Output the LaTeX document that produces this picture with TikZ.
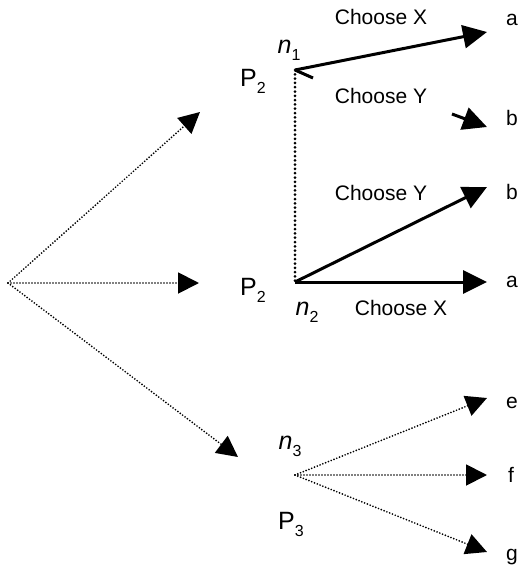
\documentclass[tikz,border=0pt]{standalone}
\usepackage{fontspec}
\setmainfont{Liberation Sans}
\usetikzlibrary{arrows.meta}
% letter with a lowered, smaller upright index
\newcommand{\idx}[2]{#1\raisebox{-0.28em}{\upshape\fontsize{16}{16}\selectfont #2}}

\begin{document}
\begin{tikzpicture}[x=1pt,y=-1pt,
  solidedge/.style={line width=3pt, -{Triangle[length=24pt,width=23pt]}},
  dotedge/.style={line width=1.9pt, line cap=round, dash pattern=on 0pt off 3pt,
                  -{Triangle[length=21pt,width=21pt]}},
  infoset/.style={line width=3pt, line cap=round, dash pattern=on 0pt off 4.3pt},
  choicelabel/.style={font=\fontsize{21}{21}\selectfont, inner sep=0pt},
  outcome/.style={font=\fontsize{21}{21}\selectfont, inner sep=0pt},
  player/.style={font=\fontsize{25}{25}\selectfont, inner sep=0pt},
]
\useasboundingbox (0,0) rectangle (519,568);

% decision points
\coordinate (root) at (8,283);
\coordinate (n1) at (295,70);
\coordinate (n2) at (295,282);
\coordinate (n3) at (295,475);

% arrow ends of the first move
\coordinate (r1) at (200,112);
\coordinate (r2) at (199,283);
\coordinate (r3) at (238,457);

% arrow ends of the later moves
\coordinate (ta1) at (487,32);
\coordinate (tb1) at (487,127);
\coordinate (sb1) at (452,114);
\coordinate (barb) at (313,78);
\coordinate (tb2) at (487,187);
\coordinate (ta2) at (487,282);
\coordinate (te) at (487,398);
\coordinate (tf) at (487,475);
\coordinate (tg) at (487,552);

% first move
\draw[dotedge] (root) -- (r1);
\draw[dotedge] (root) -- (r2);
\draw[dotedge] (root) -- (r3);

% information set of P2
\draw[infoset] (n1) -- (n2);

% moves at n1
\draw[solidedge] (n1) -- (ta1);
\draw[line width=3pt] (n1) -- (barb);
\draw[solidedge] (sb1) -- (tb1);

% moves at n2
\draw[solidedge] (n2) -- (tb2);
\draw[solidedge] (n2) -- (ta2);

% moves at n3
\draw[dotedge] (n3) -- (te);
\draw[dotedge] (n3) -- (tf);
\draw[dotedge] (n3) -- (tg);

% move labels
\node[choicelabel] (cx1) at (381,17) {Choose X};
\node[choicelabel] (cy1) at (381,96) {Choose Y};
\node[choicelabel] (cy2) at (381,193) {Choose Y};
\node[choicelabel] (cx2) at (401,308) {Choose X};

% outcomes
\node[outcome] (oa1) at (512,20) {a};
\node[outcome] (ob1) at (512,117.5) {b};
\node[outcome] (ob2) at (512,192) {b};
\node[outcome] (oa2) at (512,282) {a};
\node[outcome] (oe) at (512,403) {e};
\node[outcome] (of) at (511,475) {f};
\node[outcome] (og) at (512,557) {g};

% players and node names
\node[player] (p2a) at (253,81) {\idx{P}{2}};
\node[player] (p2b) at (253,290) {\idx{P}{2}};
\node[player] (p3) at (291,524) {\idx{P}{3}};
\node[player] (l1) at (289,50) {\idx{\itshape n}{1}};
\node[player] (l2) at (307,312) {\idx{\itshape n}{2}};
\node[player] (l3) at (290,446) {\idx{\itshape n}{3}};
\end{tikzpicture}
\end{document}
